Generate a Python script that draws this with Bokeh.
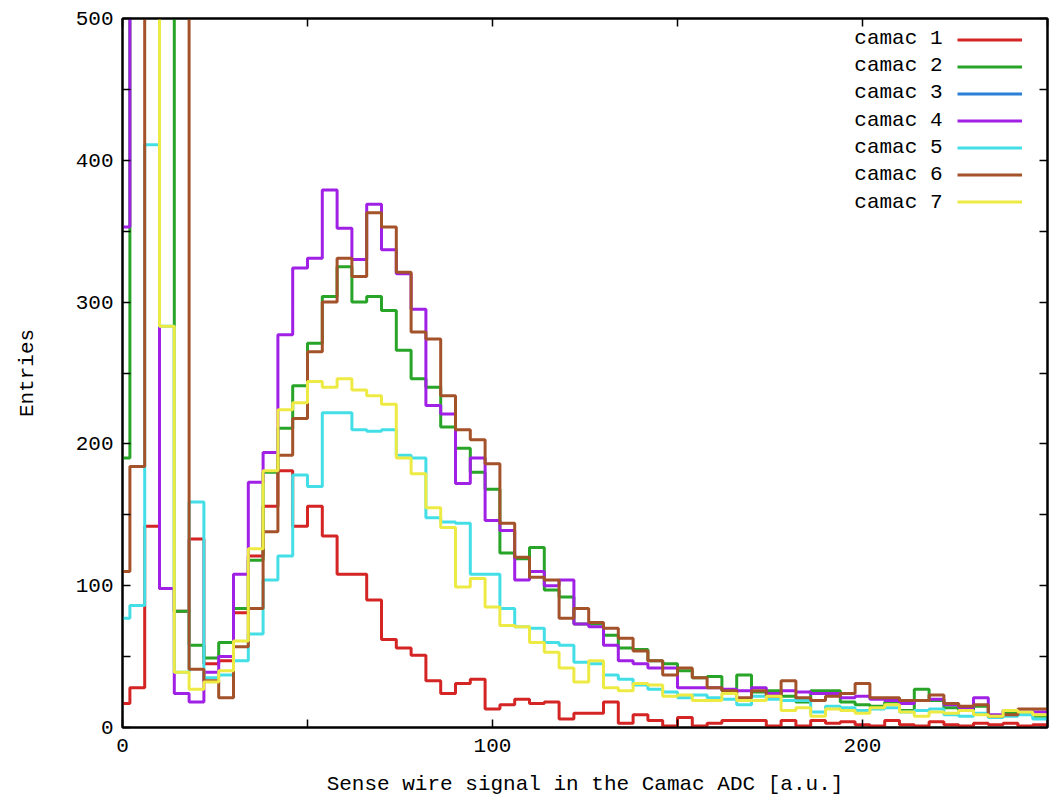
import numpy as np
from bokeh.plotting import figure
from bokeh.models import (Range1d, LinearAxis, FixedTicker, Legend, LegendItem, Label)
from bokeh.embed import file_html
from bokeh.resources import INLINE

# ADC bin centres (4 channels per bin)
adc_bins = list(range(0, 252, 4))
x_major = [0, 100, 200]
x_minor = [50, 150, 250]
y_major = [0, 100, 200, 300, 400, 500]
y_minor = [50, 150, 250, 350, 450]

camac1 = [17, 28, 142, 98, 82, 133, 45, 47, 81, 121, 156, 181, 142, 156, 135, 108, 108, 90, 62, 56,
          51, 33, 24, 31, 34, 13, 16, 20, 17, 18, 6, 10, 10, 18, 3, 9, 5, 1, 7, 1,
          3, 5, 5, 5, 1, 5, 1, 5, 3, 4, 2, 1, 5, 2, 1, 4, 2, 1, 3, 2, 3, 1, 2]
camac2 = [190, 700, 700, 700, 82, 58, 49, 60, 84, 118, 180, 211, 241, 271, 304, 325, 300, 304, 294, 266,
          246, 240, 212, 197, 180, 168, 123, 119, 127, 97, 92, 73, 73, 65, 56, 55, 47, 45, 40, 35,
          36, 26, 37, 25, 26, 22, 18, 26, 26, 18, 16, 15, 18, 12, 27, 19, 14, 12, 15, 8, 10, 11, 8]
# camac 3 is listed in the key but no trace of it is visible in the plot
camac3 = [float("nan")] * len(adc_bins)
camac4 = [353, 700, 700, 98, 24, 18, 39, 50, 108, 173, 194, 277, 324, 331, 379, 352, 330, 369, 337, 320,
          295, 227, 221, 172, 190, 146, 139, 104, 110, 100, 104, 73, 71, 58, 47, 45, 42, 42, 28, 28,
          28, 27, 26, 28, 24, 26, 25, 24, 24, 21, 22, 20, 19, 17, 19, 20, 16, 14, 21, 9, 12, 12, 11]
camac5 = [77, 86, 411, 283, 39, 159, 35, 37, 47, 66, 104, 121, 178, 170, 222, 222, 210, 209, 210, 192,
          190, 148, 145, 144, 108, 108, 84, 71, 70, 60, 58, 46, 45, 37, 34, 30, 27, 25, 21, 23,
          21, 20, 16, 22, 20, 19, 19, 11, 15, 14, 12, 13, 14, 11, 12, 13, 9, 8, 10, 7, 8, 9, 6]
camac6 = [110, 184, 700, 700, 700, 41, 33, 21, 57, 84, 138, 192, 218, 265, 300, 331, 318, 363, 353, 321,
          279, 274, 234, 210, 203, 186, 144, 120, 106, 104, 77, 84, 74, 70, 63, 54, 47, 37, 42, 35,
          28, 26, 21, 26, 22, 33, 21, 19, 22, 24, 31, 21, 21, 19, 19, 23, 17, 15, 16, 8, 9, 13, 13]
camac7 = [700, 700, 700, 283, 39, 27, 32, 40, 61, 126, 181, 224, 229, 244, 240, 246, 238, 234, 228, 190,
          179, 155, 141, 99, 105, 85, 72, 71, 60, 53, 42, 32, 47, 28, 26, 31, 30, 22, 23, 19,
          19, 24, 19, 19, 22, 12, 14, 8, 13, 12, 10, 14, 16, 11, 8, 11, 10, 12, 9, 8, 12, 11, 9]

series_names = ["camac 1", "camac 2", "camac 3", "camac 4", "camac 5", "camac 6", "camac 7"]
series_values = [camac1, camac2, camac3, camac4, camac5, camac6, camac7]
colors = ["#d42424", "#28a428", "#2a7fd6", "#a020e6", "#44dfe6", "#a4522a", "#eeea44"]

FONT = "Liberation Mono"
FS = "21px"

p = figure(width=1055, height=807, output_backend="svg", toolbar_location=None,
           x_range=Range1d(0, 250), y_range=Range1d(0, 500),
           min_border_left=122, min_border_right=8, min_border_top=18, min_border_bottom=80)
p.background_fill_color = "white"
p.border_fill_color = "white"
p.xgrid.visible = False
p.ygrid.visible = False
p.outline_line_color = "black"
p.outline_line_width = 2

half = 2.0
renderers = []
for vals, col in zip(series_values, colors):
    xs, ys = [], []
    for c, v in zip(adc_bins, vals):
        xs += [c - half, c + half]
        ys += [v, v]
    r = p.line(xs, ys, line_color=col, line_width=3)
    renderers.append(r)

xt = FixedTicker(ticks=x_major, minor_ticks=x_minor)
yt = FixedTicker(ticks=y_major, minor_ticks=y_minor)


def style(ax, labels=True):
    ax.major_tick_in = 8
    ax.major_tick_out = 0
    ax.minor_tick_in = 8
    ax.minor_tick_out = 0
    ax.major_tick_line_width = 1.5
    ax.minor_tick_line_width = 1.5
    ax.major_tick_line_color = "black"
    ax.minor_tick_line_color = "black"
    ax.axis_line_color = "black"
    ax.axis_line_width = 2
    ax.major_label_text_font = FONT
    ax.major_label_text_font_size = FS
    if labels:
        ax.major_label_text_color = "black"
    else:
        ax.major_label_text_color = None
        ax.major_label_standoff = 0


p.xaxis.ticker = xt
p.yaxis.ticker = yt
style(p.xaxis[0])
style(p.yaxis[0])
p.xaxis.major_label_standoff = 11
p.yaxis.major_label_standoff = 9
p.xaxis.axis_label = "Sense wire signal in the Camac ADC [a.u.]"
p.yaxis.axis_label = "Entries"
for ax in (p.xaxis[0], p.yaxis[0]):
    ax.axis_label_text_font = FONT
    ax.axis_label_text_font_size = FS
    ax.axis_label_text_font_style = "normal"
    ax.axis_label_text_color = "black"
p.xaxis.axis_label_standoff = 18
p.yaxis.axis_label_standoff = 34

ax_r = LinearAxis(ticker=yt)
style(ax_r, labels=False)
p.add_layout(ax_r, "right")
ax_t = LinearAxis(ticker=xt)
style(ax_t, labels=False)
p.add_layout(ax_t, "above")

# key: text on the left, line sample on the right
row_h = 27.3
items = [LegendItem(label=" ", renderers=[r]) for r in renderers]
leg = Legend(items=items, location=(835, 512), glyph_width=65, glyph_height=27,
             label_width=0, label_standoff=0, label_height=27, spacing=0,
             padding=0, margin=0, label_text_color=None,
             border_line_alpha=0, background_fill_alpha=0)
p.add_layout(leg, "center")
for i, name in enumerate(series_names):
    p.add_layout(Label(x=820, y=689.3 - row_h * i, x_units="screen", y_units="screen",
                       text=name, text_align="right", text_baseline="middle",
                       text_font=FONT, text_font_size=FS, text_color="black"))

open("out.html", "w").write(file_html(p, INLINE))
